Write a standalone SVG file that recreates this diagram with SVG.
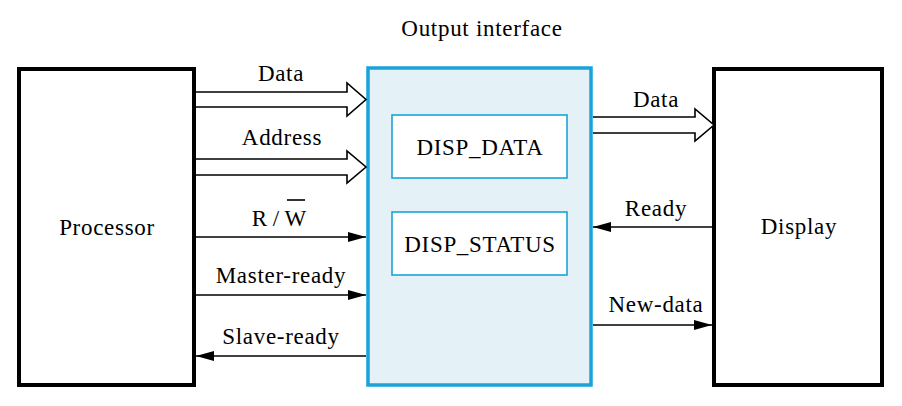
<svg xmlns="http://www.w3.org/2000/svg" width="902" height="406" viewBox="0 0 902 406">
<defs>
<style>
text{font-family:"Liberation Serif","Times New Roman",serif;font-size:23px;letter-spacing:0.7px;fill:#000;text-anchor:middle}
.blk{fill:#fff;stroke:#000;stroke-width:4}
.wire{stroke:#000;stroke-width:1.6;fill:none}
.bus{stroke:#000;stroke-width:1.6;fill:#fff;stroke-linejoin:miter}
.reg{fill:#fff;stroke:#1aa3d9;stroke-width:1.6}
</style>
<marker id="ah" markerWidth="18" markerHeight="10" refX="18" refY="5" orient="auto" markerUnits="userSpaceOnUse">
<path d="M0,0 L18,5 L0,10 Z" fill="#000"/>
</marker>
</defs>
<rect width="902" height="406" fill="#fff"/>
<g id="processor">
<rect class="blk" x="19" y="69" width="175" height="316"/>
<text x="107" y="235">Processor</text>
</g>
<g id="interface">
<rect x="368" y="68" width="223" height="317" fill="#e4f1f7" stroke="#1aa3d9" stroke-width="3.5"/>
<text x="482" y="36">Output interface</text>
</g>
<g id="disp_data">
<rect class="reg" x="392" y="115" width="175" height="63"/>
<text x="480" y="155">DISP_DATA</text>
</g>
<g id="disp_status">
<rect class="reg" x="392" y="212" width="175" height="63"/>
<text x="480" y="252">DISP_STATUS</text>
</g>
<g id="display">
<rect class="blk" x="714" y="69" width="168" height="316"/>
<text x="799" y="234">Display</text>
</g>
<g id="connectors">
<path class="bus" d="M196,92 H347 V83 L366,99.5 L347,116 V107 H196"/>
<text x="281" y="81">Data</text>
<path class="bus" d="M196,159 H347 V151 L366,167 L347,183 V175 H196"/>
<text x="282" y="145">Address</text>
<line class="wire" x1="196" y1="237" x2="366" y2="237" marker-end="url(#ah)"/>
<text x="279" y="226" style="letter-spacing:0">R / W</text>
<line x1="287" y1="200" x2="305" y2="200" stroke="#000" stroke-width="1.6"/>
<line class="wire" x1="196" y1="295" x2="366" y2="295" marker-end="url(#ah)"/>
<text x="281" y="283">Master-ready</text>
<line class="wire" x1="366" y1="356" x2="196" y2="356" marker-end="url(#ah)"/>
<text x="281" y="344">Slave-ready</text>
<path class="bus" d="M593,117 H695 V109 L714,125 L695,141 V133 H593"/>
<text x="656" y="107">Data</text>
<line class="wire" x1="712" y1="227" x2="593" y2="227" marker-end="url(#ah)"/>
<text x="656" y="216">Ready</text>
<line class="wire" x1="593" y1="325" x2="712" y2="325" marker-end="url(#ah)"/>
<text x="656" y="312">New-data</text>
</g>
</svg>
